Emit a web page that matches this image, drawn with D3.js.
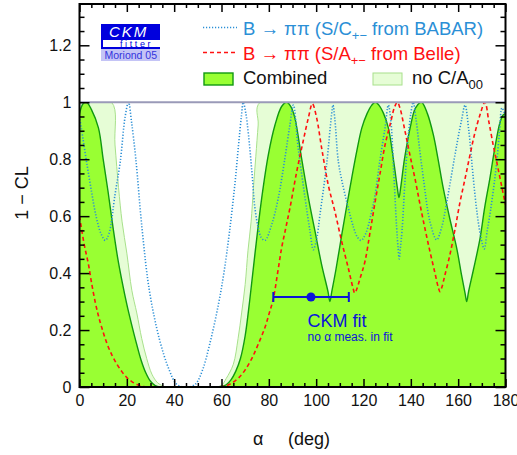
<!DOCTYPE html>
<html><head><meta charset="utf-8">
<script src="https://cdn.jsdelivr.net/npm/d3@7"></script>
<style>
body{margin:0;background:#fff;}
svg{display:block;font-family:"Liberation Sans",Arial,sans-serif;}
</style></head>
<body>
<svg id="c" width="517" height="455"></svg>
<script>
// ---- data (alpha in degrees, 1-CL) ----
const combined = [[0,0.96],[1.5,0.995],[3,1.0],[5,0.975],[8,0.91],[10,0.80],[12,0.69],[14,0.57],[16,0.46],[18,0.37],[20,0.29],[22,0.22],[24,0.155],[26,0.095],[28,0.05],[30,0.02],[32,0.005],[34,0],[58,0],[60,0.002],[62,0.008],[64,0.025],[66,0.055],[68,0.10],[70,0.18],[72,0.31],[74.1,0.465],[77,0.664],[79.8,0.816],[82.6,0.92],[85.4,0.985],[87.5,1.0],[89.3,0.985],[91,0.945],[93.9,0.80],[96.7,0.665],[99.5,0.547],[102.3,0.43],[105,0.335],[105.8,0.30],[106.6,0.335],[108.3,0.41],[110.8,0.534],[113,0.64],[115,0.733],[117.2,0.83],[119.3,0.91],[121.5,0.96],[123.5,0.99],[125,1.0],[126.5,0.99],[128.5,0.96],[130.5,0.91],[132.8,0.79],[134.3,0.70],[135,0.665],[135.7,0.70],[137.3,0.80],[139.7,0.91],[142,0.98],[144.5,1.0],[147,0.96],[149.5,0.886],[151.5,0.80],[153.7,0.698],[156.5,0.59],[159.4,0.487],[161.5,0.39],[162.9,0.33],[163.6,0.30],[164.4,0.335],[166.4,0.41],[169.2,0.52],[171.2,0.63],[173.4,0.733],[175.5,0.84],[177.7,0.93],[179,0.955],[180,0.96]];
const noC00 = [[0,1.0],[13.5,1.0],[15,0.85],[16.5,0.70],[18,0.58],[20,0.47],[22.1,0.34],[24.2,0.26],[26.3,0.17],[28.4,0.10],[30.6,0.045],[33,0.015],[35.5,0.003],[37,0],[57,0],[60,0.006],[62,0.03],[65,0.08],[67,0.17],[68.5,0.26],[70,0.36],[71.2,0.48],[72.5,0.58],[73.5,0.70],[74.5,0.81],[75.5,0.92],[76.3,1.0],[180,1.0]];
const babar = [[0,0.95],[1.5,0.87],[3,0.79],[5,0.69],[7,0.60],[9,0.54],[10.9,0.515],[12.5,0.54],[15,0.675],[17.2,0.79],[19.3,0.95],[20.7,1.0],[22,0.93],[23.8,0.80],[26.5,0.55],[29.5,0.34],[33.7,0.17],[37.9,0.06],[41,0.01],[44,0.0],[46,0],[49,0.01],[52,0.06],[55,0.15],[58.7,0.29],[61,0.40],[63.3,0.54],[65.5,0.70],[67.2,0.85],[68.4,0.95],[69.2,1.0],[70.3,0.96],[71.4,0.886],[72.8,0.76],[74.1,0.63],[75.5,0.56],[76.8,0.525],[78.4,0.515],[81.2,0.57],[84,0.664],[86.8,0.804],[88.9,0.92],[90.4,0.99],[92.4,0.84],[95.3,0.664],[97.4,0.547],[98.8,0.482],[100.2,0.52],[101.6,0.605],[104.4,0.78],[106.5,0.956],[107.1,0.99],[107.9,0.94],[109.4,0.79],[111.5,0.70],[113.6,0.628],[115.8,0.56],[117.5,0.525],[119,0.515],[121,0.54],[123,0.60],[124.9,0.675],[127,0.80],[129.1,0.91],[130.5,0.99],[131.5,0.94],[132.8,0.75],[134,0.56],[134.6,0.49],[135.1,0.45],[135.6,0.49],[136.3,0.55],[137.5,0.72],[138.7,0.86],[140,0.96],[141,1.0],[142.2,0.94],[143.5,0.85],[145.3,0.733],[148.1,0.58],[150.9,0.517],[153,0.56],[155.2,0.65],[157.3,0.75],[159.4,0.85],[161.5,0.94],[162.9,0.99],[164.5,0.90],[166.4,0.733],[168,0.61],[169.5,0.53],[171,0.485],[172.3,0.55],[173.6,0.616],[175,0.70],[176.3,0.79],[177.5,0.90],[178.5,0.98],[180,0.95]];
const belle = [[0,0.60],[2,0.50],[3.8,0.43],[5,0.37],[6.6,0.30],[8,0.25],[9.5,0.206],[11.5,0.155],[13.7,0.112],[15.8,0.08],[17.9,0.054],[20,0.033],[22.1,0.019],[24.5,0.008],[27,0.002],[30,0],[58,0],[61.5,0.003],[64,0.012],[67,0.03],[70,0.06],[72.8,0.10],[75.5,0.15],[78.4,0.21],[80.2,0.26],[81.9,0.31],[83.7,0.40],[85.4,0.488],[87.2,0.56],[88.9,0.628],[91.8,0.757],[94.5,0.863],[96.7,0.945],[98.4,0.995],[100.2,0.945],[102.3,0.84],[105.1,0.71],[107.9,0.617],[110.8,0.51],[113.5,0.42],[115.5,0.35],[116.3,0.33],[117.2,0.345],[118.5,0.38],[120.6,0.44],[122.7,0.54],[124.9,0.65],[127,0.75],[129.1,0.85],[131.5,0.93],[133,0.98],[134.3,1.0],[135.4,0.98],[137.5,0.90],[139.6,0.815],[141.8,0.73],[143.9,0.64],[146,0.555],[148.1,0.475],[150.2,0.40],[151.6,0.35],[152.3,0.335],[153.1,0.35],[154.3,0.39],[156.5,0.464],[158.7,0.555],[160.8,0.65],[163,0.735],[165,0.815],[167,0.89],[169.2,0.955],[171.3,1.0],[173,0.93],[174.8,0.85],[176.3,0.79],[177.7,0.733],[180,0.64]];
const ckmFit = {center: 97.8, low: 81.9, high: 113.8, cl: 0.316};
const xMajor = [0,20,40,60,80,100,120,140,160,180];
const yMajor = [0,0.2,0.4,0.6,0.8,1,1.2];

// ---- layout ----
const svg = d3.select("#c");
const x = d3.scaleLinear().domain([0,180]).range([79.5,505.5]);
const y = d3.scaleLinear().domain([0,1.345]).range([387,4]);
const curve = d3.curveCatmullRom.alpha(0.5);
const area = d3.area().x(d=>x(d[0])).y0(y(0)).y1(d=>y(d[1])).curve(curve);
const line = d3.line().x(d=>x(d[0])).y(d=>y(d[1])).curve(curve);

svg.append("defs").append("clipPath").attr("id","clip").append("rect")
  .attr("x",x(0)).attr("y",y(1)).attr("width",x(180)-x(0)).attr("height",y(0)-y(1));
const plot = svg.append("g").attr("clip-path","url(#clip)");

plot.append("path").datum(noC00).attr("d",area).attr("fill","#e6fdd6");
plot.append("path").datum(combined).attr("d",area).attr("fill","#99ff33");
plot.append("path").datum(noC00).attr("d",line).attr("fill","none").attr("stroke","#a8e08c").attr("stroke-width",1);
plot.append("path").datum(combined).attr("d",line).attr("fill","none").attr("stroke","#119911").attr("stroke-width",1.4);
plot.append("path").datum(babar).attr("d",line).attr("fill","none").attr("stroke","#2b8fd6").attr("stroke-width",1.6).attr("stroke-dasharray","1.2,1.8");
plot.append("path").datum(belle).attr("d",line).attr("fill","none").attr("stroke","#ff1111").attr("stroke-width",1.6).attr("stroke-dasharray","4,3");

// legend box (white strip above 1)
svg.append("rect").attr("x",x(0)).attr("y",y(1.345)).attr("width",x(180)-x(0)).attr("height",y(1)-y(1.345)).attr("fill","#fff");
svg.append("line").attr("x1",x(0)).attr("x2",x(180)).attr("y1",y(1)).attr("y2",y(1)).attr("stroke","#9a9ab8").attr("stroke-width",2);

// CKM fit
const fitC = "#0a14d8";
svg.append("line").attr("x1",x(ckmFit.low)).attr("x2",x(ckmFit.high)).attr("y1",y(ckmFit.cl)).attr("y2",y(ckmFit.cl)).attr("stroke",fitC).attr("stroke-width",2);
[ckmFit.low, ckmFit.high].forEach(v=>svg.append("line").attr("x1",x(v)).attr("x2",x(v)).attr("y1",y(ckmFit.cl)-5).attr("y2",y(ckmFit.cl)+5).attr("stroke",fitC).attr("stroke-width",2));
svg.append("circle").attr("cx",x(ckmFit.center)).attr("cy",y(ckmFit.cl)).attr("r",4.5).attr("fill",fitC);
svg.append("text").attr("x",307.5).attr("y",327).attr("font-size",18).attr("fill",fitC).text("CKM fit");
svg.append("text").attr("x",307.5).attr("y",341).attr("font-size",12).attr("fill",fitC).text("no α meas. in fit");

// axes
function styleAxis(g){ g.select(".domain").remove(); g.selectAll(".tick line").attr("stroke","#000").attr("stroke-width",1.5); g.selectAll("text").attr("font-size",16).attr("fill","#111").attr("font-family","'Liberation Sans',Arial,sans-serif"); }
const xMinor = d3.range(0,181,5).filter(v=>v%20!==0);
const yMinor = d3.range(0,1.345,0.05).map(v=>+v.toFixed(2)).filter(v=>Math.abs(v*5-Math.round(v*5))>1e-6);

svg.append("g").attr("transform",`translate(0,${y(0)})`).call(d3.axisBottom(x).tickValues(xMajor).tickSize(-8).tickPadding(8).tickFormat(d3.format("d"))).call(styleAxis);
svg.append("g").attr("transform",`translate(0,${y(0)})`).call(d3.axisBottom(x).tickValues(xMinor).tickSize(-4).tickFormat("")).call(styleAxis);
svg.append("g").attr("transform",`translate(0,${y(1.345)})`).call(d3.axisTop(x).tickValues(xMajor).tickSize(-8).tickFormat("")).call(styleAxis);
svg.append("g").attr("transform",`translate(0,${y(1.345)})`).call(d3.axisTop(x).tickValues(xMinor).tickSize(-4).tickFormat("")).call(styleAxis);
svg.append("g").attr("transform",`translate(${x(0)},0)`).call(d3.axisLeft(y).tickValues(yMajor).tickSize(-10).tickPadding(8).tickFormat(d=>String(+d.toFixed(1)))).call(styleAxis);
svg.append("g").attr("transform",`translate(${x(0)},0)`).call(d3.axisLeft(y).tickValues(yMinor).tickSize(-5).tickFormat("")).call(styleAxis);
svg.append("g").attr("transform",`translate(${x(180)},0)`).call(d3.axisRight(y).tickValues(yMajor).tickSize(-10).tickFormat("")).call(styleAxis);
svg.append("g").attr("transform",`translate(${x(180)},0)`).call(d3.axisRight(y).tickValues(yMinor).tickSize(-5).tickFormat("")).call(styleAxis);

// frame
svg.append("rect").attr("x",x(0)).attr("y",y(1.345)).attr("width",x(180)-x(0)).attr("height",y(0)-y(1.345)).attr("fill","none").attr("stroke","#000").attr("stroke-width",2);

// axis titles
const xt = svg.append("text").attr("y",445).attr("font-size",18).attr("fill","#111");
xt.append("tspan").attr("x",253).text("α");
xt.append("tspan").attr("x",288).text("(deg)");
svg.append("text").attr("transform","translate(28,193) rotate(-90)").attr("text-anchor","middle").attr("font-size",18).attr("fill","#111").text("1 − CL");

// logo
const logo = svg.append("g");
logo.append("rect").attr("x",101).attr("y",24).attr("width",59).attr("height",25).attr("fill","#0000dd");
logo.append("rect").attr("x",103).attr("y",40).attr("width",57).attr("height",7).attr("fill","#fff");
logo.append("text").attr("x",109).attr("y",37).attr("font-size",15).attr("font-style","italic").attr("letter-spacing",2).attr("fill","#fff").text("CKM");
logo.append("text").attr("x",120).attr("y",47).attr("font-size",9).attr("letter-spacing",2.6).attr("fill","#0000dd").text("fitter");
logo.append("rect").attr("x",101).attr("y",49).attr("width",59).attr("height",12).attr("fill","#c4c4f6");
logo.append("text").attr("x",104.5).attr("y",59).attr("font-size",10.5).attr("fill","#3333dd").text("Moriond 05");

// legend
const lg = svg.append("g").attr("font-size",18.5);
lg.append("line").attr("x1",203).attr("x2",237).attr("y1",27.5).attr("y2",27.5).attr("stroke","#2b8fd6").attr("stroke-width",1.6).attr("stroke-dasharray","1.2,1.8");
lg.append("line").attr("x1",203).attr("x2",237).attr("y1",52.5).attr("y2",52.5).attr("stroke","#ff1111").attr("stroke-width",1.6).attr("stroke-dasharray","4,3");
lg.append("rect").attr("x",204).attr("y",73).attr("width",29).attr("height",12).attr("fill","#99ff33").attr("stroke","#119911").attr("stroke-width",1.4);
lg.append("rect").attr("x",373).attr("y",73).attr("width",29).attr("height",12).attr("fill","#e6fdd6").attr("stroke","#a8e08c").attr("stroke-width",1);
const t1 = lg.append("text").attr("x",243).attr("y",34.5).attr("fill","#2b8fd6");
t1.append("tspan").text("B → ππ (S/C");
t1.append("tspan").attr("font-size",13).attr("dy",5).text("+−");
t1.append("tspan").attr("dy",-5).text(" from BABAR)");
const t2 = lg.append("text").attr("x",243).attr("y",59.5).attr("fill","#ff1111");
t2.append("tspan").text("B → ππ (S/A");
t2.append("tspan").attr("font-size",13).attr("dy",5).text("+−");
t2.append("tspan").attr("dy",-5).text(" from Belle)");
lg.append("text").attr("x",243).attr("y",84).attr("fill","#111").text("Combined");
const t4 = lg.append("text").attr("x",412).attr("y",84).attr("fill","#111");
t4.append("tspan").text("no C/A");
t4.append("tspan").attr("font-size",13).attr("dy",5).text("00");
</script>
</body></html>
